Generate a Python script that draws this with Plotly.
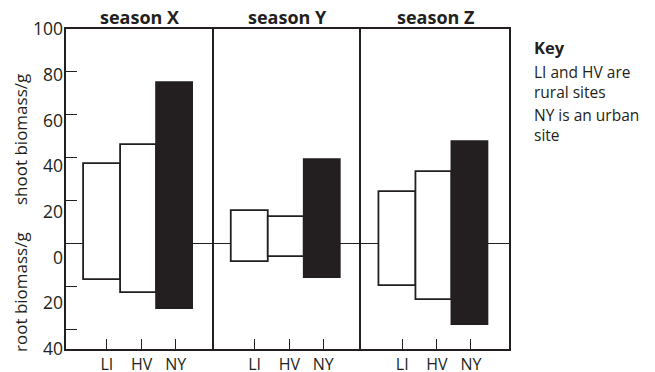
import numpy as np
import plotly.graph_objects as go

seasons = ["season X", "season Y", "season Z"]
sites = ["LI", "HV", "NY"]
shoot = {
    "season X": [37, 46, 75],
    "season Y": [15, 12.5, 39],
    "season Z": [24, 33.5, 47.5],
}
root = {
    "season X": [17, 23, 30.5],
    "season Y": [8.5, 6.5, 16],
    "season Z": [20, 26.5, 38],
}
site_colors = ["white", "white", "#231f20"]
y_tick_labels = ["100", "80", "60", "40", "20", "0", "20", "40"]
key_title = "<b>Key</b>"
key_paragraphs = ["LI and HV are<br>rural sites", "NY is an urban<br>site"]

INK = "#231f20"
FONT = "Open Sans, Noto Sans, sans-serif"
YMIN, YMAX = -49.3, 100

# page body has an 8px margin: figure is drawn at (8, 8) in the window
OFF = 8
W, H = 655 - OFF, 372 - OFF
ML, MR, MT, MB = 66 - OFF, 146, 29 - OFF, 23

fig = go.Figure()
positions = [1, 2, 3]
for i, s in enumerate(seasons):
    suffix = "" if i == 0 else str(i + 1)
    sh = np.array(shoot[s], dtype=float)
    rt = np.array(root[s], dtype=float)
    fig.add_trace(go.Bar(
        x=positions, y=sh + rt, base=-rt, width=1,
        marker=dict(color=site_colors, line=dict(color=INK, width=1.8)),
        xaxis="x" + suffix, yaxis="y" + suffix, showlegend=False, hoverinfo="skip",
    ))

# invisible trace for overlay label axis
fig.add_trace(go.Scatter(x=[1], y=[0], xaxis="x", yaxis="y4", mode="markers",
                         marker=dict(opacity=0), showlegend=False, hoverinfo="skip"))

layout = dict(
    template="none",
    width=W, height=H,
    margin=dict(l=ML, r=MR, t=MT, b=MB, pad=0),
    paper_bgcolor="white", plot_bgcolor="white",
    font=dict(family=FONT, color=INK, size=16),
    bargap=0,
)
domains = [[0, 1/3], [1/3, 2/3], [2/3, 1]]
for i in range(3):
    suffix = "" if i == 0 else str(i + 1)
    layout["xaxis" + suffix] = dict(
        domain=domains[i], anchor="y" + suffix, range=[-0.01, 4.07],
        showline=True, mirror=True, linecolor=INK, linewidth=2,
        showgrid=False, zeroline=False, automargin=False,
        tickmode="array", tickvals=[1.12, 2.08, 3.02], ticktext=sites,
        ticks="inside", ticklen=10, tickwidth=1.3, tickcolor=INK,
        ticklabelstandoff=0,
        tickfont=dict(size=16, color=INK, family=FONT),
    )
    ydict = dict(
        anchor="x" + suffix, range=[YMIN, YMAX],
        showline=True, mirror=(i == 2), linecolor=INK, linewidth=2,
        showgrid=False, zeroline=True, zerolinecolor=INK, zerolinewidth=1.4,
        showticklabels=False, automargin=False,
    )
    if i == 0:
        ydict.update(tickmode="array", tickvals=[100, 80, 60, 40, 20, -20, -40],
                     ticks="inside", ticklen=11, tickwidth=1.3, tickcolor=INK)
    else:
        ydict.update(matches="y", ticks="")
    layout["yaxis" + suffix] = ydict

layout["yaxis4"] = dict(
    overlaying="y", anchor="x", side="left", range=[YMIN, YMAX],
    showline=False, showgrid=False, zeroline=False, ticks="", automargin=False,
    tickmode="array", tickvals=list(np.linspace(YMAX, YMIN, len(y_tick_labels))),
    ticktext=y_tick_labels, ticklabelstandoff=2,
    tickfont=dict(size=17.5, color=INK, family=FONT),
)
fig.update_layout(**layout)

plot_w, plot_h = W - ML - MR, H - MT - MB
def px(xw):  # window x pixel -> paper
    return (xw - OFF - ML) / plot_w
def py(yw):  # window y pixel -> paper
    return (H - MB - (yw - OFF)) / plot_h

for i, s in enumerate(seasons):
    fig.add_annotation(text="<b>" + s + "</b>", xref="paper", yref="paper",
                       x=(i + 0.5) / 3, y=py(17), xanchor="center", yanchor="middle",
                       showarrow=False, font=dict(size=18, color=INK, family=FONT))

fig.add_annotation(text="shoot biomass/g", xref="paper", yref="paper", x=px(20), y=py(140),
                   textangle=-90, showarrow=False, xanchor="center", yanchor="middle",
                   font=dict(size=17, color=INK, family=FONT))
fig.add_annotation(text="root biomass/g", xref="paper", yref="paper", x=px(20), y=py(292),
                   textangle=-90, showarrow=False, xanchor="center", yanchor="middle",
                   font=dict(size=17, color=INK, family=FONT))

fig.add_annotation(text=key_title, xref="paper", yref="paper", x=px(532), y=py(47),
                   xanchor="left", yanchor="middle", showarrow=False, align="left",
                   font=dict(size=16.5, color=INK, family=FONT))
for t, yy in zip(key_paragraphs, [81.5, 125.5]):
    fig.add_annotation(text=t, xref="paper", yref="paper", x=px(532), y=py(yy),
                       xanchor="left", yanchor="middle", showarrow=False, align="left",
                       font=dict(size=15.5, color=INK, family=FONT))

fig.write_html("out.html")
